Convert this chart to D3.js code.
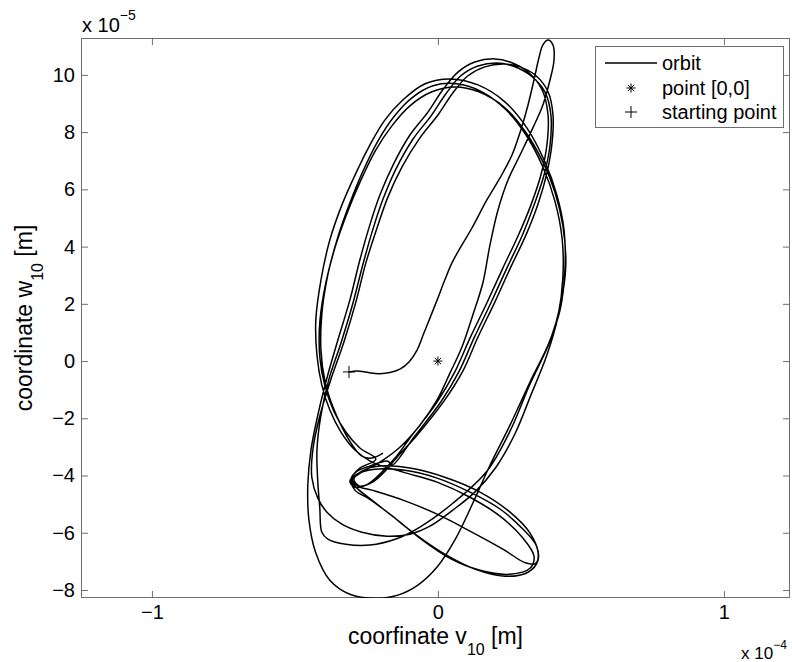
<!DOCTYPE html>
<html>
<head>
<meta charset="utf-8">
<script src="https://cdn.jsdelivr.net/npm/d3@7"></script>
<style>
  body { margin: 0; background: #fff; }
  svg text { font-family: Arial, "Liberation Sans", Helvetica, sans-serif; fill: #000; }
</style>
</head>
<body>
<svg id="chart" width="792" height="662"></svg>
<script>
// Phase-plane orbit of the 10th mode: [v10, w10] pairs, both in units of 1e-5 m.
const transient = [
  [-3.11,-0.38],[-2.83,-0.35],[-2.59,-0.37],[-2.34,-0.42],[-2.03,-0.44],[-1.68,-0.40],
  [-1.33,-0.28],[-1.01,-0.03],[-0.73,0.38],[-0.49,0.98],[-0.28,1.50],[-0.03,2.13],
  [0.24,2.83],[0.49,3.43],[0.84,4.06],[1.19,4.65],[1.71,5.63],[2.17,6.40],[2.59,7.20],
  [2.90,8.08],[3.15,8.95],[3.36,9.83],[3.53,10.59],[3.67,11.05],[3.85,11.22],[4.02,11.05],
  [4.06,10.52],[3.92,9.83],[3.67,8.95],[3.32,8.15],[2.87,7.20],[2.45,6.33],[2.10,5.28],
  [1.82,4.06],[1.57,2.73],[1.22,1.61],[0.84,0.49],[0.42,-0.42],[-0.03,-1.36],[-0.63,-2.24],
  [-1.33,-3.01],[-2.03,-3.53],[-2.66,-3.88],[-3.01,-4.16]
];
const fish1 = [
  [-2.90,-4.51],[-2.38,-4.83],[-1.68,-5.35],[-0.80,-6.05],[0.24,-6.75],[1.29,-7.27],
  [2.34,-7.52],[3.15,-7.38],[3.50,-6.96],[3.43,-6.43],[2.94,-5.84],[2.17,-5.17],
  [1.12,-4.58],[-0.03,-4.09],[-1.22,-3.81],[-2.20,-3.78],[-2.83,-3.95],[-3.08,-4.20],
  [-2.90,-4.41],[-2.45,-4.30],[-1.96,-3.88]
];
const rise1 = [
  [-1.50,-3.39],[-0.98,-2.69],[-0.03,-1.43],[0.59,-0.38],[1.12,0.80],[1.71,2.03],
  [2.27,3.25],[2.80,4.37],[3.25,5.45],[3.60,6.50],[3.81,7.55],[3.85,8.60],[3.64,9.48],
  [3.15,10.10],[2.52,10.45],[1.99,10.56]
];
const fall1 = [
  [1.29,10.45],[0.70,10.10],[0.17,9.48],[-0.35,8.70],[-0.98,7.90],[-1.57,6.85],
  [-2.03,5.80],[-2.38,4.76],[-2.73,3.53],[-3.08,2.13],[-3.50,0.73],[-3.88,-0.59],
  [-4.20,-1.89],[-4.44,-3.11],[-4.55,-4.34],[-4.51,-5.56],[-4.27,-6.71],[-3.78,-7.66],
  [-3.08,-8.15],[-2.20,-8.29],[-1.40,-8.18],[-0.70,-7.83],[-0.03,-7.20],[0.59,-6.26],
  [1.19,-5.03],[1.82,-3.64],[2.52,-2.24],[3.22,-0.73],[3.85,0.56],[4.27,1.78],
  [4.44,3.18],[4.41,4.58],[4.16,5.80],[3.74,6.96],[3.11,8.15],[2.34,9.06],[1.40,9.65],
  [0.42,9.86],[-0.45,9.69],[-1.22,9.13],[-1.85,8.43],[-2.38,7.55],[-2.90,6.50],
  [-3.36,5.45],[-3.78,4.23],[-4.09,2.83],[-4.27,1.43],[-4.23,0.21],[-4.06,-0.84],
  [-3.78,-1.71],[-3.39,-2.48],[-2.90,-3.11],[-2.31,-3.53]
];
const fish2 = [
  [-1.22,-3.88],[-0.03,-4.23],[1.12,-4.76],[2.17,-5.42],[2.94,-6.15],[3.36,-6.82],
  [3.22,-7.24],[2.52,-7.45],[1.47,-7.31],[0.42,-6.89],[-0.63,-6.19],[-1.50,-5.49],
  [-2.31,-4.86],[-2.83,-4.44],[-3.04,-4.16],[-2.87,-3.88],[-2.38,-3.67],[-1.75,-3.50]
];
const rise2 = [
  [-1.61,-3.64],[-0.84,-2.66],[0.10,-1.43],[0.73,-0.38],[1.26,0.80],[1.85,2.03],
  [2.41,3.25],[2.94,4.37],[3.36,5.45],[3.71,6.50],[3.92,7.55],[3.95,8.60],[3.74,9.41],
  [3.25,9.97],[2.62,10.31],[2.06,10.42]
];
const fall2 = [
  [1.40,10.31],[0.80,9.97],[0.28,9.34],[-0.24,8.57],[-0.87,7.76],[-1.47,6.71],
  [-1.92,5.66],[-2.27,4.62],[-2.62,3.39],[-2.97,2.03],[-3.39,0.63],[-3.81,-0.63],
  [-4.09,-1.89],[-4.23,-3.11],[-4.20,-4.23],[-4.13,-5.14],[-4.06,-5.98],[-3.85,-6.22],
  [-3.22,-6.40],[-2.38,-6.43],[-1.47,-6.22],[-0.63,-5.80],[0.52,-4.97],[1.71,-3.85],
  [2.52,-2.45],[3.22,-0.80],[3.92,0.70],[4.30,2.03],[4.47,3.32],[4.37,4.72],[4.09,5.91],
  [3.67,6.96],[3.04,8.04],[2.31,8.88],[1.43,9.41],[0.59,9.58],[-0.21,9.41],[-0.98,8.92],
  [-1.61,8.22],[-2.17,7.38],[-2.69,6.33],[-3.15,5.24],[-3.57,4.06],[-3.92,2.73],
  [-4.13,1.36],[-4.13,0.14],[-3.95,-0.87],[-3.64,-1.75],[-3.22,-2.48],[-2.73,-3.04],
  [-2.17,-3.43]
];
const fish3 = [
  [-2.73,-3.74],[-3.01,-4.09],[-2.80,-4.37],[-2.31,-4.51],[-1.22,-4.86],[-0.03,-5.35],
  [1.12,-5.94],[2.27,-6.57],[3.08,-7.06],[3.43,-7.06],[3.50,-6.68],[3.22,-6.01],
  [2.52,-5.28],[1.47,-4.58],[0.24,-4.06],[-0.98,-3.74],[-2.03,-3.67],[-2.66,-3.85],
  [-2.94,-4.13],[-2.73,-4.37],[-2.24,-4.20],[-1.85,-3.85]
];
const rise3 = [
  [-1.43,-3.36],[-0.73,-2.59],[0.21,-1.40],[0.87,-0.35],[1.40,0.84],[1.99,2.06],
  [2.55,3.29],[3.08,4.41],[3.50,5.49],[3.81,6.57],[3.99,7.62],[4.02,8.64],[3.85,9.41],
  [3.43,9.97],[2.87,10.28],[2.31,10.38]
];
const fall3 = [
  [1.64,10.28],[1.05,9.97],[0.52,9.37],[0.00,8.60],[-0.63,7.80],[-1.26,6.78],
  [-1.75,5.73],[-2.13,4.65],[-2.52,3.43],[-2.87,2.06],[-3.29,0.66],[-3.74,-0.63],
  [-4.13,-1.92],[-4.37,-3.08],[-4.41,-4.06],[-4.20,-4.79],[-3.88,-5.28],[-3.36,-5.70],
  [-2.66,-5.98],[-1.78,-6.12],[-0.98,-6.05],[-0.28,-5.77],[0.52,-5.21],[1.29,-4.58],
  [2.03,-3.71],[2.69,-2.55],[3.25,-1.19],[3.81,0.21],[4.20,1.57],[4.37,2.94],
  [4.34,4.30],[4.09,5.59],[3.67,6.78],[3.08,7.90],[2.38,8.78],[1.54,9.41],[0.66,9.69],
  [-0.17,9.62],[-0.91,9.20],[-1.54,8.54],[-2.10,7.69],[-2.62,6.64],[-3.08,5.52],
  [-3.50,4.33],[-3.85,3.01],[-4.06,1.64],[-4.09,0.38],[-3.95,-0.70],[-3.67,-1.61],
  [-3.32,-2.38]
];
const tail = [
  [-2.97,-2.97],[-2.66,-3.32],[-2.31,-3.39],[-1.92,-3.22]
];

const originPoint = [0, 0];
const startPoint = [-3.11, -0.38];

// Axis limits and ticks (values in units of 1e-5 m)
const xLimits = [-12.48, 12.31];
const yLimits = [-8.28, 11.29];
const xTicks = [-10, 0, 10];
const yTicks = [-8, -6, -4, -2, 0, 2, 4, 6, 8, 10];
const legendLabels = ["orbit", "point [0,0]", "starting point"];

const orbit = [].concat(transient, fish1, rise1, fall1, fish2, rise2, fall2,
                        fish3, rise3, fall3, tail);

const svg = d3.select("#chart");
const plot = { left: 81, top: 38, right: 790, bottom: 598 };
const axisColor = "#6e6e6e";

const x = d3.scaleLinear().domain(xLimits).range([plot.left, plot.right]);
const y = d3.scaleLinear().domain(yLimits).range([plot.bottom, plot.top]);

svg.append("defs").append("clipPath").attr("id", "plotClip")
  .append("rect")
  .attr("x", plot.left).attr("y", plot.top)
  .attr("width", plot.right - plot.left).attr("height", plot.bottom - plot.top);

const fmt = d3.format("d");

function styleAxis(g) {
  g.select(".domain").remove();
  g.selectAll(".tick line").attr("stroke", axisColor).attr("stroke-width", 1);
  g.selectAll(".tick text").style("font-size", "20px").attr("fill", "#000");
}

// bottom axis, labelled in units of 1e-4
svg.append("g")
  .attr("transform", `translate(0,${plot.bottom})`)
  .call(d3.axisBottom(x).tickValues(xTicks).tickSizeInner(-7).tickSizeOuter(0)
    .tickPadding(7).tickFormat(d => fmt(d / 10)))
  .call(styleAxis);

svg.append("g")
  .attr("transform", `translate(0,${plot.top})`)
  .call(d3.axisTop(x).tickValues(xTicks).tickSizeInner(-7).tickSizeOuter(0).tickFormat(""))
  .call(styleAxis);

svg.append("g")
  .attr("transform", `translate(${plot.left},0)`)
  .call(d3.axisLeft(y).tickValues(yTicks).tickSizeInner(-7).tickSizeOuter(0)
    .tickPadding(6).tickFormat(fmt))
  .call(styleAxis);

svg.append("g")
  .attr("transform", `translate(${plot.right},0)`)
  .call(d3.axisRight(y).tickValues(yTicks).tickSizeInner(-7).tickSizeOuter(0).tickFormat(""))
  .call(styleAxis);

// frame
svg.append("rect")
  .attr("x", plot.left + 0.5).attr("y", plot.top + 0.5)
  .attr("width", plot.right - plot.left - 1).attr("height", plot.bottom - plot.top - 1)
  .attr("fill", "none").attr("stroke", axisColor).attr("stroke-width", 1);

// orbit
const line = d3.line()
  .x(d => x(d[0]))
  .y(d => y(d[1]))
  .curve(d3.curveCatmullRom.alpha(0.5));

svg.append("path")
  .datum(orbit)
  .attr("clip-path", "url(#plotClip)")
  .attr("d", line)
  .attr("fill", "none")
  .attr("stroke", "#000")
  .attr("stroke-width", 1.5)
  .attr("stroke-linejoin", "round");

// markers
function asterisk(g, cx, cy, r) {
  const a = r * Math.SQRT1_2;
  const segs = [[-r, 0, r, 0], [0, -r, 0, r], [-a, -a, a, a], [-a, a, a, -a]];
  g.selectAll(null).data(segs).enter().append("line")
    .attr("x1", s => cx + s[0]).attr("y1", s => cy + s[1])
    .attr("x2", s => cx + s[2]).attr("y2", s => cy + s[3])
    .attr("stroke", "#000").attr("stroke-width", 1);
}
function plus(g, cx, cy, r) {
  const segs = [[-r, 0, r, 0], [0, -r, 0, r]];
  g.selectAll(null).data(segs).enter().append("line")
    .attr("x1", s => cx + s[0]).attr("y1", s => cy + s[1])
    .attr("x2", s => cx + s[2]).attr("y2", s => cy + s[3])
    .attr("stroke", "#000").attr("stroke-width", 1);
}
const markers = svg.append("g");
asterisk(markers.append("g"), x(originPoint[0]), y(originPoint[1]), 4.5);
plus(markers.append("g"), x(startPoint[0]), y(startPoint[1]), 6);

// exponent notes
const topNote = svg.append("text").attr("x", 82).attr("y", 32).style("font-size", "20px");
topNote.append("tspan").text("x 10");
topNote.append("tspan").attr("dy", -12).style("font-size", "14px").text("\u22125");

const bottomNote = svg.append("text").attr("x", 741).attr("y", 659).style("font-size", "17px");
bottomNote.append("tspan").text("x 10");
bottomNote.append("tspan").attr("dy", -10).style("font-size", "12px").text("\u22124");

// axis titles with subscript
function title(sel, main, sub) {
  sel.style("font-size", "23px").attr("text-anchor", "middle");
  sel.append("tspan").text(main);
  sel.append("tspan").attr("dy", 11).style("font-size", "16px").text(sub);
  sel.append("tspan").attr("dy", -11).text(" [m]");
}
title(svg.append("text").attr("x", (plot.left + plot.right) / 2).attr("y", 644),
      "coorfinate v", "10");
title(svg.append("text")
        .attr("transform", `translate(32,${(plot.top + plot.bottom) / 2}) rotate(-90)`),
      "coordinate w", "10");

// legend
const legend = svg.append("g");
legend.append("rect")
  .attr("x", 595.5).attr("y", 46.5).attr("width", 188).attr("height", 81)
  .attr("fill", "#fff").attr("stroke", axisColor).attr("stroke-width", 1);
const rowY = [63, 88, 112];
legend.append("line")
  .attr("x1", 605).attr("x2", 657).attr("y1", rowY[0]).attr("y2", rowY[0])
  .attr("stroke", "#000").attr("stroke-width", 1.5);
asterisk(legend.append("g"), 631, rowY[1], 4.5);
plus(legend.append("g"), 631, rowY[2], 6);
legend.selectAll(".lbl").data(legendLabels).enter().append("text")
  .attr("class", "lbl")
  .attr("x", 662).attr("y", (d, i) => rowY[i] + 7)
  .style("font-size", "20px")
  .text(d => d);
</script>
</body>
</html>
